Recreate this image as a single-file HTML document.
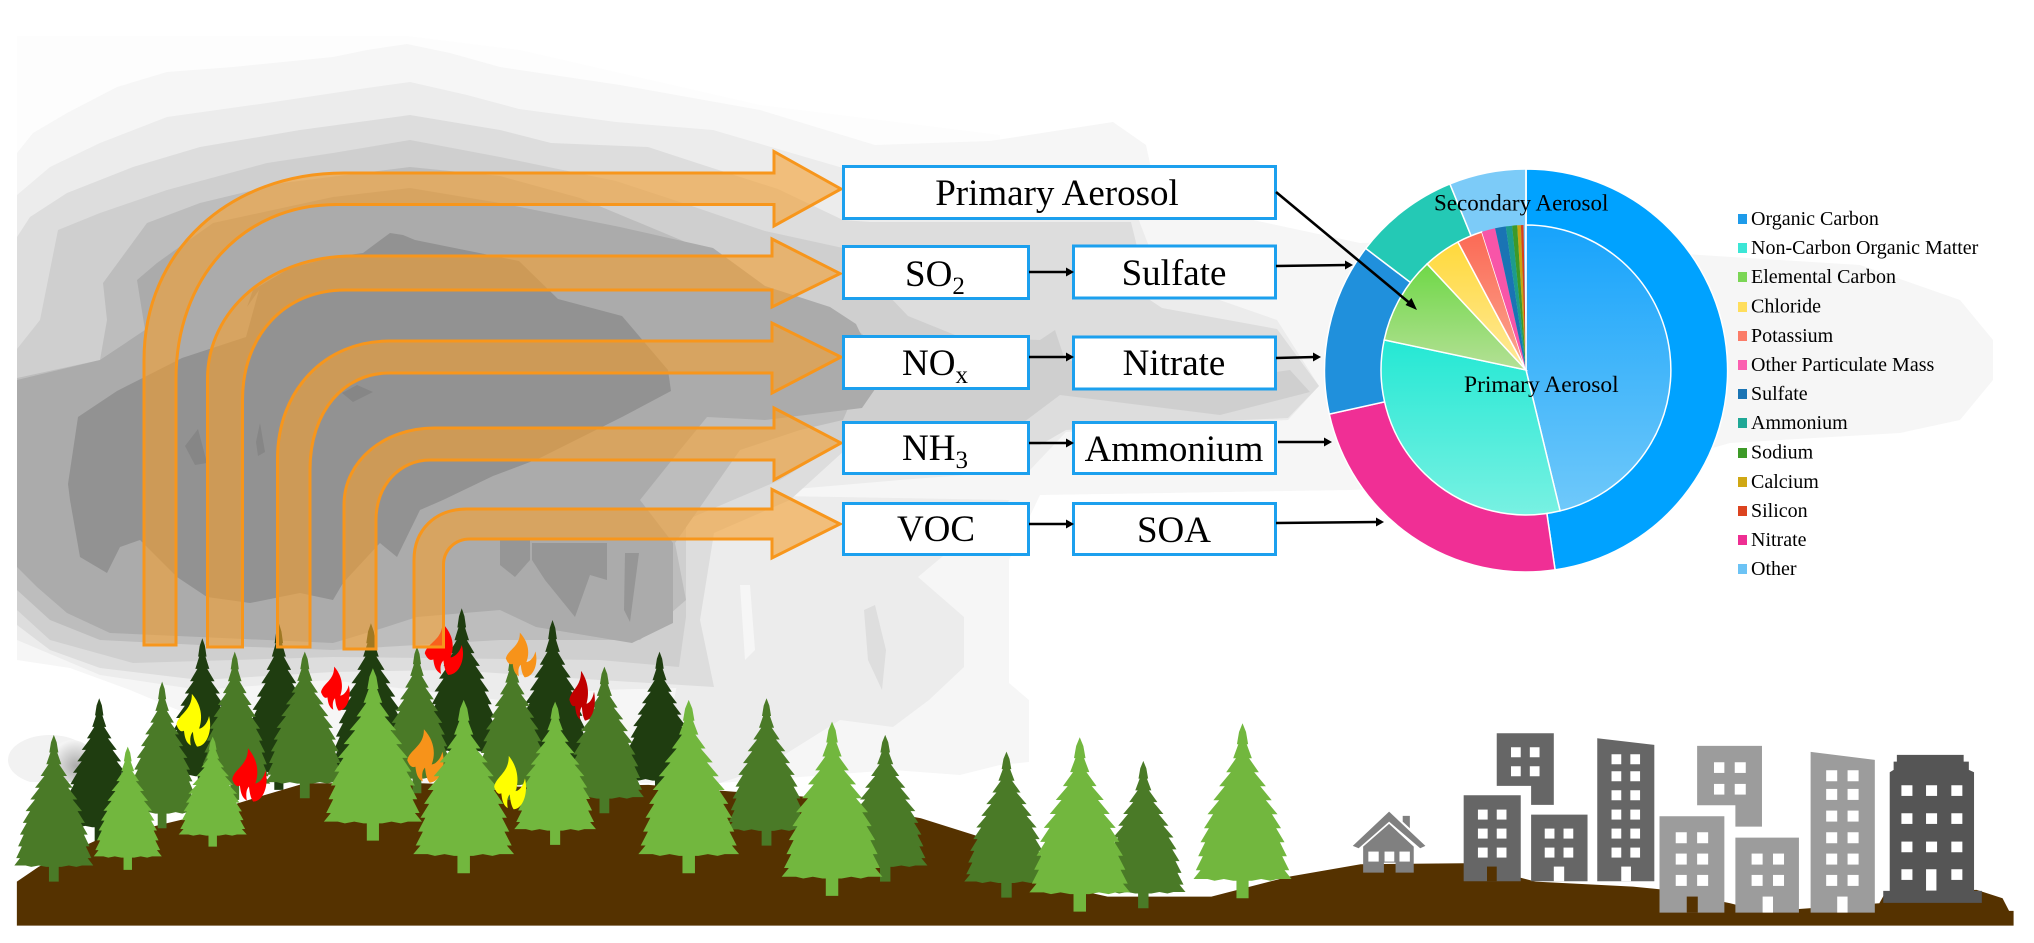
<!DOCTYPE html>
<html><head><meta charset="utf-8"><style>
html,body{margin:0;padding:0;background:#fff;width:2034px;height:943px;overflow:hidden}
svg{display:block}
text{font-family:"Liberation Serif",serif;fill:#000}
</style></head><body>
<svg width="2034" height="943" viewBox="0 0 2034 943" xmlns="http://www.w3.org/2000/svg">
<defs>
<polygon id="t" points="0,0 1.5,5 2.4,12 1.8,12 4,20 2.8,20 7,28 5,28 10,36 7.6,36 12.5,44 10,44 15,52 12.6,52 16.5,60 14.4,60 18,68 16,68 19,76 17,76 20,84 18,84 21,89 15,89 12,90 8,89 4,90 2.6,90 2.6,100 -2.6,100 -2.6,90 -4,90 -8,89 -12,90 -15,89 -21,89 -18,84 -20,84 -17,76 -19,76 -16,68 -18,68 -14.4,60 -16.5,60 -12.6,52 -15,52 -10,44 -12.500,44 -7.6,36 -10,36 -5,28 -7,28 -2.8,20 -4,20 -1.8,12 -2.4,12 -1.5,5"/>
<path id="f" d="M45,0 C72,20 78,45 66,66 C74,66 90,58 95,42 C106,70 88,100 60,100 C52,92 50,84 48,72 C42,76 38,84 42,98 C26,92 24,80 22,70 C16,72 8,72 0,58 C6,38 46,32 45,0 Z"/>
<linearGradient id="g1" gradientUnits="userSpaceOnUse" x1="0" y1="225" x2="0" y2="515"><stop offset="0" stop-color="#17A3FB"/><stop offset="1" stop-color="#70C9FA"/></linearGradient>
<linearGradient id="g2" gradientUnits="userSpaceOnUse" x1="0" y1="340" x2="0" y2="515"><stop offset="0" stop-color="#24E8D4"/><stop offset="1" stop-color="#78F1E2"/></linearGradient>
<linearGradient id="g3" gradientUnits="userSpaceOnUse" x1="0" y1="264" x2="0" y2="370"><stop offset="0" stop-color="#6FD847"/><stop offset="1" stop-color="#B4E096"/></linearGradient>
<linearGradient id="g4" gradientUnits="userSpaceOnUse" x1="0" y1="242" x2="0" y2="370"><stop offset="0" stop-color="#FFD93B"/><stop offset="1" stop-color="#FFE99A"/></linearGradient>
<linearGradient id="g5" gradientUnits="userSpaceOnUse" x1="0" y1="232" x2="0" y2="370"><stop offset="0" stop-color="#FB6A55"/><stop offset="1" stop-color="#FBA690"/></linearGradient>
<radialGradient id="sp" cx=".6" cy=".6" r=".6"><stop offset="0" stop-color="#aaa"/><stop offset="1" stop-color="#f4f4f4"/></radialGradient>
</defs>

<!-- smoke -->
<polygon fill="#fdfdfd" points="17,36 300,36 407,36 520,50 760,105 1000,135 1000,200 17,200"/>
<polygon fill="#f6f6f6" points="17,153 33,133 67,113 117,87 167,72 233,67 333,57 367,50 407,44 450,53 500,67 620,85 760,110 875,145 990,141 1113,122 1146,145 1154,182 1230,215 1360,243 1500,240 1700,255 1860,265 1960,300 1993,340 1993,380 1960,420 1900,433 1730,443 1600,480 1350,490 1040,495 1009,560 1009,683 1029,700 1029,762 1000,765 960,775 893,770 720,783 220,783 190,715 130,690 70,668 17,660"/>
<polygon fill="#ececec" points="720,495 1010,500 918,577 964,617 964,667 929,700 893,727 840,720 760,770 720,783 690,783 670,720 690,620"/>
<polygon fill="#f6f6f6" points="740,585 750,585 755,650 745,660"/>
<polygon fill="#dedede" points="864,610 875,605 886,650 882,690 868,660"/>
<polygon fill="#ececec" points="17,195 50,167 100,143 167,117 267,103 367,88 410,82 467,95 519,109 616,122 713,130 843,168 900,215 1100,215 1131,200 1162,280 1277,320 1319,386 1288,420 1200,425 1066,432 1030,470 900,480 760,492 714,533 714,687 600,690 500,700 330,680 200,690 100,675 17,640"/>
<polygon fill="#dddddd" points="17,237 30,217 67,193 133,167 200,147 300,130 410,115 500,130 551,143 648,147 700,164 778,189 843,220 870,222 1085,222 1131,222 1150,300 1162,308 1277,329 1319,386 1288,418 1200,422 1066,430 1040,445 845,450 790,500 714,533 700,620 714,687 600,680 450,670 333,672 200,680 100,668 50,650 17,625"/>
<polygon fill="#cfcfcf" points="17,349 40,320 58,230 100,213 167,190 267,163 333,153 410,140 500,157 616,181 680,202 765,231 843,248 908,316 960,337 1040,340 1055,330 1065,360 1220,380 1290,370 1310,392 1220,415 1060,395 1020,425 960,430 845,440 780,480 686,520 686,617 679,667 600,660 333,657 133,663 50,640 17,610"/>
<polygon fill="#bdbdbd" points="17,378 100,360 107,320 103,283 147,223 200,203 283,183 410,167 500,176 580,198 700,248 778,302 830,307 875,345 843,420 800,430 740,450 675,543 686,600 640,640 500,640 333,650 200,645 100,640 50,620 17,590"/>
<polygon fill="#ababab" points="17,380 100,360 145,330 137,280 157,263 213,223 333,197 410,188 500,203 620,227 713,248 765,286 830,307 856,324 882,379 862,408 765,420 707,417 680,450 640,500 673,543 673,623 632,643 536,627 500,610 417,617 383,628 333,643 267,640 200,637 110,633 67,613 37,587 17,567"/>
<polygon fill="#929292" points="70,500 80,557 107,573 120,547 140,540 177,577 207,597 250,603 300,593 333,600 343,583 380,543 397,557 420,510 443,500 493,476 538,459 622,417 671,391 668,370 622,316 558,299 519,261 415,240 403,235 390,233 363,253 333,257 290,268 253,290 247,307 259,290 246,337 182,358 117,391 78,417 68,484"/>
<polygon fill="#969696" points="500,540 530,540 530,560 515,577 500,565"/>
<polygon fill="#969696" points="532,543 607,543 607,580 590,575 575,617 545,580 532,560"/>
<polygon fill="#969696" points="625,553 639,553 630,622 624,610"/>
<polygon fill="#868686" points="185,446 198,429 207,463 195,465"/>
<polygon fill="#868686" points="342,393 357,385 373,392 353,402"/>
<polygon fill="#868686" points="256,442 260,423 265,452 258,456"/>
<ellipse cx="50" cy="760" rx="42" ry="25" fill="#f2f2f2"/>
<ellipse cx="72" cy="762" rx="22" ry="22" fill="url(#sp)"/>
<rect x="17" y="782" width="60" height="10" fill="#fff"/>

<!-- scene, zoom coordinates -->
<g transform="scale(.6485,.3333) translate(0,1800)" >
<g fill="#1F3D10">
<use href="#t" transform="translate(153,295) scale(2.7,4.3)"/>
<use href="#t" transform="translate(312,115) scale(2.7,4.6)"/>
<use href="#t" transform="translate(430,70) scale(2.7,5)"/>
<use href="#t" transform="translate(572,70) scale(3,5)"/>
<use href="#t" transform="translate(712,25) scale(2.8,4.8)"/>
<use href="#t" transform="translate(852,60) scale(2.8,4.8)"/>
<use href="#t" transform="translate(1017,155) scale(2.7,4.3)"/>
</g>
<polygon fill="#553200" points="26,977 26,845 60,800 150,720 300,650 400,590 470,550 650,550 800,560 1000,555 1130,575 1240,590 1420,655 1510,710 1568,830 1708,890 1868,890 1988,830 2098,793 2258,790 2368,845 2518,860 2568,870 2668,910 2718,935 2898,910 2908,875 3048,870 3088,895 3098,933 3105,933 3105,977"/>
<g fill="#4A7A27">
<use href="#t" transform="translate(250,245) scale(2.6,4.4)"/>
<use href="#t" transform="translate(362,155) scale(2.6,4.45)"/>
<use href="#t" transform="translate(470,155) scale(2.9,4.4)"/>
<use href="#t" transform="translate(643,140) scale(2.6,4.4)"/>
<use href="#t" transform="translate(790,160) scale(2.7,4.4)"/>
<use href="#t" transform="translate(932,200) scale(2.9,4.4)"/>
<use href="#t" transform="translate(83,405) scale(2.9,4.4)"/>
<use href="#t" transform="translate(1182,295) scale(2.9,4.42)"/>
<use href="#t" transform="translate(1365,405) scale(3.1,4.4)"/>
<use href="#t" transform="translate(1552,455) scale(3.1,4.38)"/>
<use href="#t" transform="translate(1763,483) scale(3.1,4.42)"/>
</g>
<use href="#f" fill="#FF0000" transform="translate(655,70) scale(.6,1.55)"/>
<use href="#f" fill="#F7931A" transform="translate(780,98) scale(.48,1.34)"/>
<use href="#f" fill="#FF0000" transform="translate(495,200) scale(.45,1.32)"/>
<use href="#f" fill="#C00000" transform="translate(878,213) scale(.4,1.49)"/>
<use href="#f" fill="#F7931A" transform="translate(628,388) scale(.57,1.6)"/>
<g fill="#72B73E">
<use href="#t" transform="translate(197,440) scale(2.5,3.7)"/>
<use href="#t" transform="translate(328,410) scale(2.5,3.3)"/>
<use href="#t" transform="translate(575,205) scale(3.6,5.17)"/>
<use href="#t" transform="translate(715,300) scale(3.7,5.2)"/>
<use href="#t" transform="translate(856,305) scale(3,4.3)"/>
<use href="#t" transform="translate(1062,300) scale(3.7,5.2)"/>
<use href="#t" transform="translate(1283,365) scale(3.7,5.23)"/>
<use href="#t" transform="translate(1665,412) scale(3.7,5.23)"/>
<use href="#t" transform="translate(1916,370) scale(3.6,5.25)"/>
</g>
<use href="#f" fill="#FFFF00" transform="translate(272,282) scale(.53,1.58)"/>
<use href="#f" fill="#FF0000" transform="translate(358,445) scale(.54,1.6)"/>
<use href="#f" fill="#FFFF00" transform="translate(762,468) scale(.5,1.6)"/>
<!-- house + buildings -->
<g transform="translate(1568,240)">
<g fill="#808080">
<polygon points="574,395 630,498 622,505 574,425 527,505 518,498"/>
<polygon points="595,408 606,408 606,445 595,425"/>
<polygon points="574,432 612,500 612,578 584,578 584,548 566,548 566,578 534,578 534,500"/>
</g>
<g fill="#fff"><rect x="542" y="515" width="16" height="30"/><rect x="567" y="515" width="15" height="30"/><rect x="590" y="515" width="16" height="30"/></g>
<g fill="#666">
<polygon points="740,160 828,160 828,375 793,375 793,318 740,318"/>
<polygon points="895,175 983,195 983,604 895,604"/>
<polygon points="689,346 777,346 777,604 689,604"/>
<polygon points="793,404 880,404 880,604 793,604"/>
</g>
<g fill="#9C9C9C">
<polygon points="1049,198 1149,198 1149,440 1108,440 1108,376 1049,376"/>
<polygon points="991,409 1091,409 1091,698 991,698"/>
<polygon points="1108,473 1206,473 1206,698 1108,698"/>
<polygon points="1224,216 1323,240 1323,698 1224,698"/>
</g>
<polygon fill="#555" points="1357,225 1460,225 1460,245 1468,245 1468,270 1476,277 1476,633 1488,633 1488,669 1336,669 1336,633 1346,633 1346,277 1352,270 1352,245 1357,245"/>
<g fill="#fff">
<rect x="762" y="202" width="15" height="30"/><rect x="791" y="202" width="15" height="30"/><rect x="762" y="259" width="15" height="30"/><rect x="791" y="259" width="15" height="30"/>
<rect x="917" y="223" width="15" height="30"/><rect x="946" y="223" width="15" height="30"/><rect x="917" y="274" width="15" height="30"/><rect x="946" y="274" width="15" height="30"/><rect x="917" y="331" width="15" height="30"/><rect x="946" y="331" width="15" height="30"/><rect x="917" y="389" width="15" height="30"/><rect x="946" y="389" width="15" height="30"/><rect x="917" y="446" width="15" height="30"/><rect x="946" y="446" width="15" height="30"/><rect x="917" y="503" width="15" height="30"/><rect x="946" y="503" width="15" height="30"/><rect x="932" y="560" width="15" height="44"/>
<rect x="711" y="389" width="15" height="30"/><rect x="740" y="389" width="15" height="30"/><rect x="711" y="446" width="15" height="30"/><rect x="740" y="446" width="15" height="30"/><rect x="711" y="503" width="15" height="30"/><rect x="740" y="503" width="15" height="30"/>
<rect x="814" y="446" width="15" height="30"/><rect x="843" y="446" width="15" height="30"/><rect x="814" y="503" width="15" height="30"/><rect x="843" y="503" width="15" height="30"/><rect x="828" y="560" width="16" height="44"/>
<rect x="1075" y="247" width="16" height="32"/><rect x="1107" y="247" width="17" height="32"/><rect x="1075" y="312" width="16" height="32"/><rect x="1107" y="312" width="17" height="32"/>
<rect x="1016" y="457" width="17" height="33"/><rect x="1049" y="457" width="17" height="33"/><rect x="1016" y="521" width="17" height="33"/><rect x="1049" y="521" width="17" height="33"/><rect x="1016" y="585" width="17" height="33"/><rect x="1049" y="585" width="17" height="33"/>
<rect x="1133" y="521" width="17" height="33"/><rect x="1166" y="521" width="17" height="33"/><rect x="1133" y="585" width="17" height="33"/><rect x="1166" y="585" width="17" height="33"/><rect x="1150" y="650" width="16" height="48"/>
<rect x="1248" y="271" width="17" height="33"/><rect x="1281" y="271" width="17" height="33"/><rect x="1248" y="327" width="17" height="33"/><rect x="1281" y="327" width="17" height="33"/><rect x="1248" y="392" width="17" height="33"/><rect x="1281" y="392" width="17" height="33"/><rect x="1248" y="457" width="17" height="33"/><rect x="1281" y="457" width="17" height="33"/><rect x="1248" y="521" width="17" height="33"/><rect x="1281" y="521" width="17" height="33"/><rect x="1248" y="585" width="17" height="33"/><rect x="1281" y="585" width="17" height="33"/><rect x="1265" y="650" width="16" height="48"/>
<rect x="1364" y="316" width="17" height="32"/><rect x="1402" y="316" width="17" height="32"/><rect x="1441" y="316" width="17" height="32"/><rect x="1364" y="400" width="17" height="32"/><rect x="1402" y="400" width="17" height="32"/><rect x="1441" y="400" width="17" height="32"/><rect x="1364" y="485" width="17" height="32"/><rect x="1402" y="485" width="17" height="32"/><rect x="1441" y="485" width="17" height="32"/><rect x="1364" y="568" width="17" height="32"/><rect x="1402" y="568" width="16" height="64"/><rect x="1441" y="568" width="17" height="32"/>
</g>
<g fill="#553200"><rect x="725" y="560" width="15" height="44"/><rect x="1033" y="650" width="17" height="48"/></g>
</g>
</g>

<!-- orange arrows -->
<g fill="#F5A030" fill-opacity=".6" stroke="#F7961C" stroke-width="3" stroke-linejoin="miter">
<path d="M144,645 L144,360 C144,250 230,173 344,173 L774,173 L774,151.5 L841,189 L774,226 L774,204.5 L337,204.5 C240,204.5 176,280 176,379 L176,645 Z"/>
<path d="M207.5,647 L207.5,379 C207.5,310 270,256 353,256 L772,256 L772,239 L840,273.6 L772,307 L772,290 L345,290 C285,290 242.5,335 242.5,400 L242.5,647 Z"/>
<path d="M277.5,647 L277.5,459 C277.5,390 325,341 389,341 L772,341 L772,323 L841,357 L772,393 L772,373 L389,373 C345,373 310,410 310,470 L310,647 Z"/>
<path d="M344,649 L344,505 C344,460 385,428 434.5,428 L774,428 L774,408 L841,443 L774,480 L774,460 L430,460 C400,460 376,485 376,520 L376,649 Z"/>
<path d="M414,647 L414,560 C414,530 435,509 467,509 L772,509 L772,489.5 L840,524 L772,558 L772,539 L470,539 C455,539 443.5,550 443.5,565 L443.5,647 Z"/>
</g>

<!-- pie outer -->
<g stroke="#fff" stroke-width="1.5">
<path fill="#00A2FF" d="M1526,370.5 L1526,169 A201.5,201.5 0 0 1 1555.1,569.9 Z"/>
<path fill="#F02F95" d="M1526,370.5 L1555.1,569.9 A201.5,201.5 0 0 1 1329.3,414.1 Z"/>
<path fill="#2090DC" d="M1526,370.5 L1329.3,414.1 A201.5,201.5 0 0 1 1365.7,248.4 Z"/>
<path fill="#24C9B5" d="M1526,370.5 L1365.7,248.4 A201.5,201.5 0 0 1 1449.9,183.9 Z"/>
<path fill="#7CCBF8" d="M1526,370.5 L1449.9,183.9 A201.5,201.5 0 0 1 1526,169 Z"/>
</g>
<!-- pie inner -->
<g stroke="#fff" stroke-width="1.5">
<path fill="url(#g1)" d="M1526,370 L1526,225 A145,145 0 0 1 1560.1,510.9 Z"/>
<path fill="url(#g2)" d="M1526,370 L1560.1,510.9 A145,145 0 0 1 1384.2,339.9 Z"/>
<path fill="url(#g3)" d="M1526,370 L1384.2,339.9 A145,145 0 0 1 1427.1,263.9 Z"/>
<path fill="url(#g4)" d="M1526,370 L1427.1,263.9 A145,145 0 0 1 1457.9,242 Z"/>
<path fill="url(#g5)" d="M1526,370 L1457.9,242 A145,145 0 0 1 1481.9,231.9 Z"/>
</g>
<g stroke="none">
<path fill="#F855A8" d="M1526,370 L1481.9,231.9 A145,145 0 0 1 1495.1,228.3 Z"/>
<path fill="#1A74B4" d="M1526,370 L1495.1,228.3 A145,145 0 0 1 1505.8,226.4 Z"/>
<path fill="#1D9C8C" d="M1526,370 L1505.8,226.4 A145,145 0 0 1 1512.1,225.7 Z"/>
<path fill="#3D9A28" d="M1526,370 L1512.1,225.7 A145,145 0 0 1 1517.2,225.3 Z"/>
<path fill="#C9A412" d="M1526,370 L1517.2,225.3 A145,145 0 0 1 1520.9,225.1 Z"/>
<path fill="#D8401C" d="M1526,370 L1520.9,225.1 A145,145 0 0 1 1523.5,225 Z"/>
</g>
<line x1="1526" y1="169" x2="1526" y2="370" stroke="#fff" stroke-width="1.5"/>
<text x="1434" y="210.7" font-size="23">Secondary Aerosol</text>
<text x="1464" y="392" font-size="23.5">Primary Aerosol</text>

<!-- boxes -->
<g fill="#fff" stroke="#1CA0EE" stroke-width="3">
<rect x="843.5" y="166.5" width="432" height="52"/>
<rect x="843.5" y="246.5" width="185" height="52"/>
<rect x="843.5" y="336.5" width="185" height="52"/>
<rect x="843.5" y="422.5" width="185" height="51"/>
<rect x="843.5" y="503.5" width="185" height="51"/>
<rect x="1073.5" y="246" width="202" height="52"/>
<rect x="1073.5" y="337" width="202" height="52"/>
<rect x="1073.5" y="422.5" width="202" height="51"/>
<rect x="1073.5" y="503.5" width="202" height="51"/>
</g>
<g font-size="37" text-anchor="middle">
<text x="1057" y="205">Primary Aerosol</text>
<text x="1174" y="285">Sulfate</text>
<text x="1174" y="375">Nitrate</text>
<text x="1174" y="461">Ammonium</text>
<text x="1174" y="542">SOA</text>
<text x="936" y="541">VOC</text>
</g>
<g font-size="37">
<text x="905" y="286">SO<tspan font-size="25" dy="8">2</tspan></text>
<text x="902" y="375">NO<tspan font-size="25" dy="8">x</tspan></text>
<text x="902" y="460">NH<tspan font-size="25" dy="8">3</tspan></text>
</g>

<!-- black arrows -->
<g stroke="#000" stroke-width="2.6" fill="none">
<line x1="1029" y1="272" x2="1068" y2="272"/>
<line x1="1029" y1="357" x2="1068" y2="357"/>
<line x1="1029" y1="443" x2="1068" y2="443"/>
<line x1="1029" y1="524" x2="1068" y2="524"/>
<line x1="1276" y1="266" x2="1347" y2="265"/>
<line x1="1276" y1="358" x2="1315" y2="357"/>
<line x1="1278" y1="442" x2="1326" y2="442"/>
<line x1="1276" y1="523" x2="1378" y2="522"/>
<line x1="1276" y1="192" x2="1412" y2="305"/>
</g>
<g fill="#000">
<polygon points="1074,272 1066,267.5 1066,276.5"/>
<polygon points="1074,357 1066,352.5 1066,361.5"/>
<polygon points="1074,443 1066,438.5 1066,447.5"/>
<polygon points="1074,524 1066,519.5 1066,528.5"/>
<polygon points="1353,265 1345,260.5 1345,269.5"/>
<polygon points="1321,357 1313,352.5 1313,361.5"/>
<polygon points="1332,442 1324,437.5 1324,446.5"/>
<polygon points="1384,522 1376,517.5 1376,526.5"/>
<polygon points="1417,310 1405.5,305 1411.5,298"/>
</g>

<!-- legend -->
<g>
<rect x="1738" y="214" width="9" height="10" fill="#1E9BEA"/>
<rect x="1738" y="243" width="9" height="10" fill="#3CE6D6"/>
<rect x="1738" y="272" width="9" height="10" fill="#7BD655"/>
<rect x="1738" y="302" width="9" height="10" fill="#FFDE5C"/>
<rect x="1738" y="331" width="9" height="10" fill="#FB7C68"/>
<rect x="1738" y="360" width="9" height="10" fill="#FB5FB0"/>
<rect x="1738" y="389" width="9" height="10" fill="#1A74B4"/>
<rect x="1738" y="418" width="9" height="10" fill="#1FA896"/>
<rect x="1738" y="448" width="9" height="10" fill="#3D9A28"/>
<rect x="1738" y="477" width="9" height="10" fill="#D0A814"/>
<rect x="1738" y="506" width="9" height="10" fill="#DC4420"/>
<rect x="1738" y="535" width="9" height="10" fill="#EE2E92"/>
<rect x="1738" y="564" width="9" height="10" fill="#6CC3F5"/>
</g>
<g font-size="20">
<text x="1751" y="225">Organic Carbon</text>
<text x="1751" y="254">Non-Carbon Organic Matter</text>
<text x="1751" y="283">Elemental Carbon</text>
<text x="1751" y="312.500">Chloride</text>
<text x="1751" y="342">Potassium</text>
<text x="1751" y="371">Other Particulate Mass</text>
<text x="1751" y="400">Sulfate</text>
<text x="1751" y="429">Ammonium</text>
<text x="1751" y="458.500">Sodium</text>
<text x="1751" y="488">Calcium</text>
<text x="1751" y="517">Silicon</text>
<text x="1751" y="546">Nitrate</text>
<text x="1751" y="575">Other</text>
</g>
</svg>
</body></html>
